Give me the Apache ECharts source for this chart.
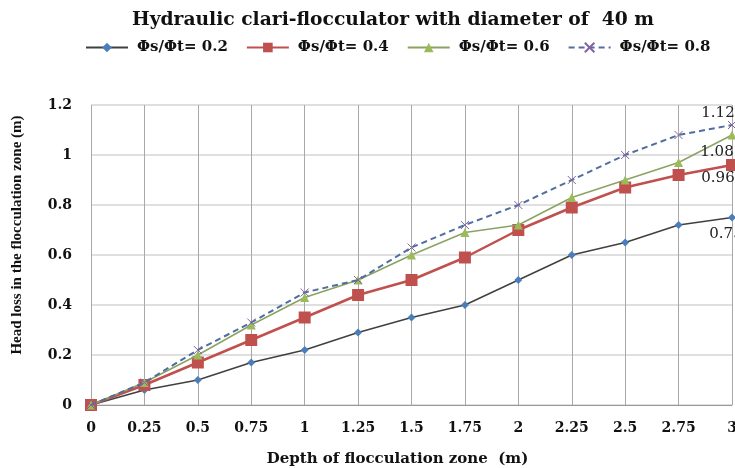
<!DOCTYPE html>
<html>
<head>
<meta charset="utf-8">
<script src="https://cdn.jsdelivr.net/npm/echarts@6/dist/echarts.min.js"></script>
<style>
  html, body { margin: 0; padding: 0; background: #fff; }
  #chart { width: 735px; height: 468px; }
</style>
</head>
<body>
<div id="chart"></div>
<script>
// depth of flocculation zone (m)
var depths = ["0", "0.25", "0.5", "0.75", "1", "1.25", "1.5", "1.75", "2", "2.25", "2.5", "2.75", "3"];

// head loss (m) for each Φs/Φt ratio
var ratio02 = [0, 0.06, 0.10, 0.17, 0.22, 0.29, 0.35, 0.40, 0.50, 0.60, 0.65, 0.72, 0.75];
var ratio04 = [0, 0.08, 0.17, 0.26, 0.35, 0.44, 0.50, 0.59, 0.70, 0.79, 0.87, 0.92, 0.96];
var ratio06 = [0, 0.09, 0.20, 0.32, 0.43, 0.50, 0.60, 0.69, 0.72, 0.83, 0.90, 0.97, 1.08];
var ratio08 = [0, 0.09, 0.22, 0.33, 0.45, 0.50, 0.63, 0.72, 0.80, 0.90, 1.00, 1.08, 1.12];

var seriesNames = ["Φs/Φt= 0.2", "Φs/Φt= 0.4", "Φs/Φt= 0.6", "Φs/Φt= 0.8"];

var serif = "'DejaVu Serif', 'Liberation Serif', serif";
var tallSerif = "'Liberation Serif', serif";

// put a value label on the last point only
function withEndLabel(vals, offset) {
  return vals.map(function (v, i) {
    if (i !== vals.length - 1) return v;
    return {
      value: v,
      label: {
        show: true,
        position: "inside",
        offset: offset,
        formatter: function (p) { return p.value.toFixed(2); },
        fontFamily: serif,
        fontSize: 15,
        color: "#222"
      }
    };
  });
}

var chart = echarts.init(document.getElementById("chart"));

chart.setOption({
  animation: false,
  title: {
    text: "Hydraulic clari-flocculator with diameter of  40 m",
    left: 127,
    top: 6,
    textStyle: {
      fontFamily: serif,
      fontWeight: "bold",
      fontSize: 18.7,
      color: "#111"
    }
  },
  legend: {
    top: 35,
    left: 80,
    itemWidth: 42,
    itemHeight: 12,
    itemGap: 18,
    textStyle: {
      fontFamily: serif,
      fontWeight: "bold",
      fontSize: 15,
      color: "#111",
      padding: [0, 0, 0, 4]
    },
    data: seriesNames
  },
  grid: {
    top: 105,
    left: 91,
    right: 3,
    bottom: 63,
    outerBoundsMode: "none"
  },
  xAxis: {
    type: "category",
    boundaryGap: false,
    data: depths,
    name: "Depth of flocculation zone  (m)",
    nameLocation: "middle",
    nameGap: 47,
    nameTextStyle: {
      fontFamily: serif,
      fontWeight: "bold",
      fontSize: 15,
      color: "#111",
      padding: [0, 28, 0, 0]
    },
    axisLine: { lineStyle: { color: "#999" } },
    axisTick: { show: false },
    axisLabel: {
      margin: 16,
      fontFamily: serif,
      fontWeight: "bold",
      fontSize: 14,
      color: "#111"
    },
    splitLine: {
      show: true,
      lineStyle: { color: "#a8a8a8", width: 1 }
    }
  },
  yAxis: {
    type: "value",
    min: 0,
    max: 1.2,
    interval: 0.2,
    name: "Head loss in the flocculation zone (m)",
    nameLocation: "middle",
    nameGap: 66,
    nameTextStyle: {
      fontFamily: tallSerif,
      fontWeight: "bold",
      fontSize: 15,
      color: "#111",
      padding: [0, 0, 0, 40]
    },
    axisLine: { show: false },
    axisTick: { show: false },
    axisLabel: {
      margin: 19,
      fontFamily: serif,
      fontWeight: "bold",
      fontSize: 14,
      color: "#111"
    },
    splitLine: {
      lineStyle: { color: "#d4d4d4", width: 1.5 }
    }
  },
  series: [
    {
      name: seriesNames[0],
      type: "line",
      clip: false,
      z: 2,
      data: withEndLabel(ratio02, [-6, 17]),
      symbol: "diamond",
      symbolSize: 8,
      itemStyle: { color: "#4a7ebb" },
      lineStyle: { color: "#404040", width: 1.5 }
    },
    {
      name: seriesNames[1],
      type: "line",
      clip: false,
      z: 3,
      data: withEndLabel(ratio04, [-14, 13]),
      symbol: "rect",
      symbolSize: 12,
      itemStyle: { color: "#c0504d" },
      lineStyle: { color: "#c0504d", width: 2.5 }
    },
    {
      name: seriesNames[2],
      type: "line",
      clip: false,
      z: 4,
      data: withEndLabel(ratio06, [-15, 17]),
      symbol: "triangle",
      symbolSize: 9,
      itemStyle: { color: "#9bbb59" },
      lineStyle: { color: "#8ca264", width: 1.5 }
    },
    {
      name: seriesNames[3],
      type: "line",
      clip: false,
      z: 5,
      data: withEndLabel(ratio08, [-14, -12]),
      symbol: "path://M0,0L10,10M10,0L0,10",
      symbolSize: 8,
      itemStyle: { color: "none", borderColor: "#8064a2", borderWidth: 1 },
      lineStyle: { color: "#4f6f9f", width: 2, type: [6, 4] }
    }
  ]
});
</script>
</body>
</html>
